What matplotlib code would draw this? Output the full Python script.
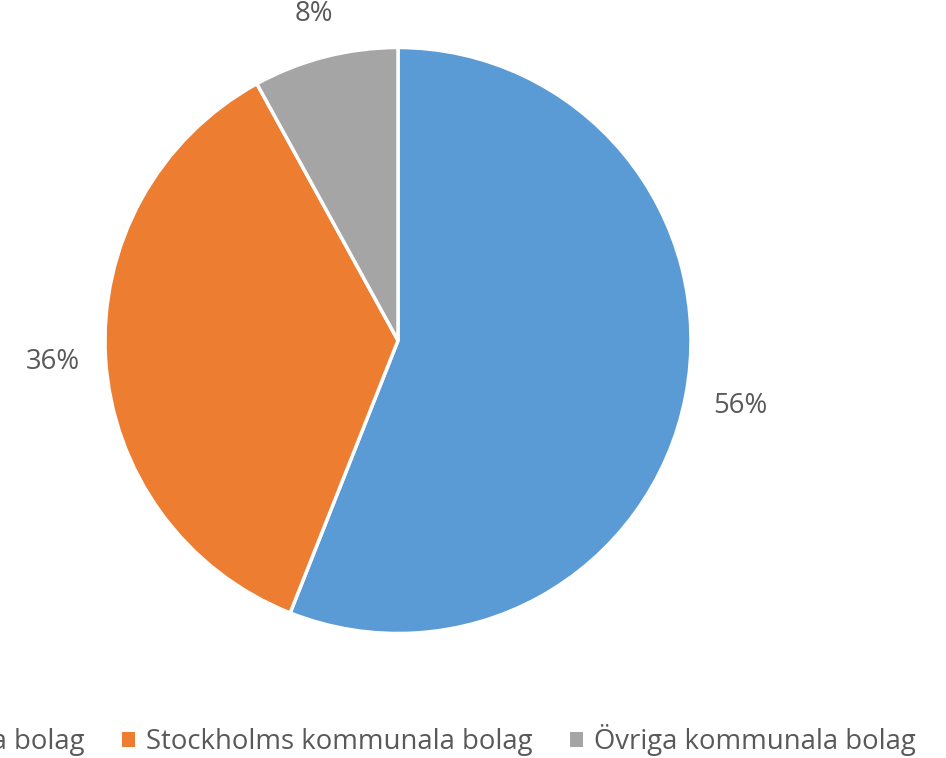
import numpy as np
import matplotlib.pyplot as plt
from matplotlib.patches import Patch

plt.rcParams['font.family'] = ['Open Sans', 'DejaVu Sans']

labels = ['Statliga bolag', 'Stockholms kommunala bolag', 'Övriga kommunala bolag']
shares = [56, 36, 8]
colors = ['#5B9BD5', '#ED7D31', '#A5A5A5']
label_dist = [1.19, 1.18, 1.15]

W, H = 946, 758
fig = plt.figure(figsize=(W / 100, H / 100), dpi=100)
ax = fig.add_axes([0, 0, 1, 1])

# pie centre and radius in pixel units
cx, cy, r = 398, H - 340.5, 293
wedges, _, pcts = ax.pie(shares, colors=colors, startangle=90, counterclock=False,
                         center=(cx, cy), radius=r, autopct='%1.0f%%',
                         wedgeprops=dict(edgecolor='white', linewidth=2.5),
                         textprops=dict(color='#595959', fontsize=19.8))
# data labels sit just outside the pie
for w, t, d in zip(wedges, pcts, label_dist):
    ang = np.deg2rad((w.theta1 + w.theta2) / 2)
    t.set_position((cx + d * r * np.cos(ang), cy + d * r * np.sin(ang)))

ax.set_xlim(0, W)
ax.set_ylim(0, H)
ax.set_aspect('equal')
ax.axis('off')

handles = [Patch(facecolor=c, edgecolor='none') for c in colors]
fig.legend(handles, labels, ncol=3, frameon=False, loc='center right',
           bbox_to_anchor=(916 / W, 1 - 740 / H), borderpad=0, borderaxespad=0,
           handlelength=0.47, handleheight=0.47, handletextpad=0.4, columnspacing=1.38,
           fontsize=19.8, labelcolor='#595959')

fig.savefig('out.png', dpi=100)
